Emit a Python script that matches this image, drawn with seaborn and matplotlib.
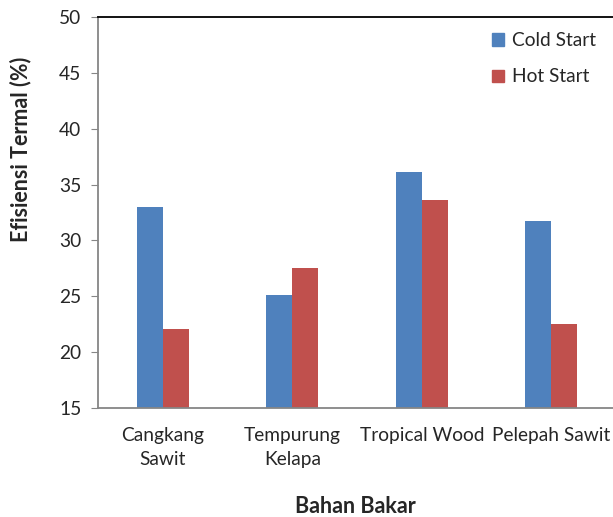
import numpy as np
import pandas as pd
import matplotlib
matplotlib.use("Agg")
import matplotlib.pyplot as plt
import seaborn as sns
from matplotlib.patches import Patch

# data
categories = ["Cangkang\nSawit", "Tempurung\nKelapa", "Tropical Wood", "Pelepah Sawit"]
cold_start = [33.0, 25.1, 36.1, 31.7]
hot_start = [22.1, 27.5, 33.6, 22.5]
series = ["Cold Start", "Hot Start"]
colors = ["#4F81BD", "#C0504D"]
y_ticks = [15, 20, 25, 30, 35, 40, 45, 50]

df = pd.DataFrame({
    "kategori": categories * 2,
    "nilai": cold_start + hot_start,
    "seri": [series[0]] * 4 + [series[1]] * 4,
})

sns.set_style("white")
plt.rcParams["font.family"] = ["Lato", "DejaVu Sans"]

fig = plt.figure(figsize=(6.13, 5.17), dpi=100)
ax = fig.add_axes([98 / 613, 1 - 408 / 517, 518 / 613, 391 / 517])

sns.barplot(data=df, x="kategori", y="nilai", hue="seri", palette=colors,
            width=0.4, gap=0, saturation=1, ax=ax, legend=False, linewidth=0)

ax.set_ylim(15, 50)
ax.set_yticks(y_ticks)
ax.set_xlim(-0.5, 3.5)
ax.tick_params(axis="y", direction="out", length=5, color="#868686", labelsize=13.8, pad=7, left=True)
ax.tick_params(axis="x", length=0, labelsize=13.8, pad=14)
for lbl in ax.get_xticklabels():
    lbl.set_linespacing(1.45)

for s in ["left", "bottom"]:
    ax.spines[s].set_color("#868686")
    ax.spines[s].set_linewidth(1.3)
ax.spines["top"].set_color("black")
ax.spines["top"].set_linewidth(1.3)
ax.spines["right"].set_visible(False)

ax.set_xlabel("Bahan Bakar", fontsize=15.5, fontweight="bold")
ax.xaxis.set_label_coords(0.496, -0.225)
ax.set_ylabel("Efisiensi Termal (%)", fontsize=15.5, fontweight="bold")
ax.yaxis.set_label_coords(-0.128, 0.662)

handles = [Patch(color=c, label=s) for c, s in zip(colors, series)]
ax.legend(handles=handles, loc="upper left", bbox_to_anchor=(0.728, 1.005), frameon=False,
          fontsize=13.8, handlelength=0.6, handleheight=0.6, handletextpad=0.4, labelspacing=1.0)

fig.savefig("out.png", dpi=100)
